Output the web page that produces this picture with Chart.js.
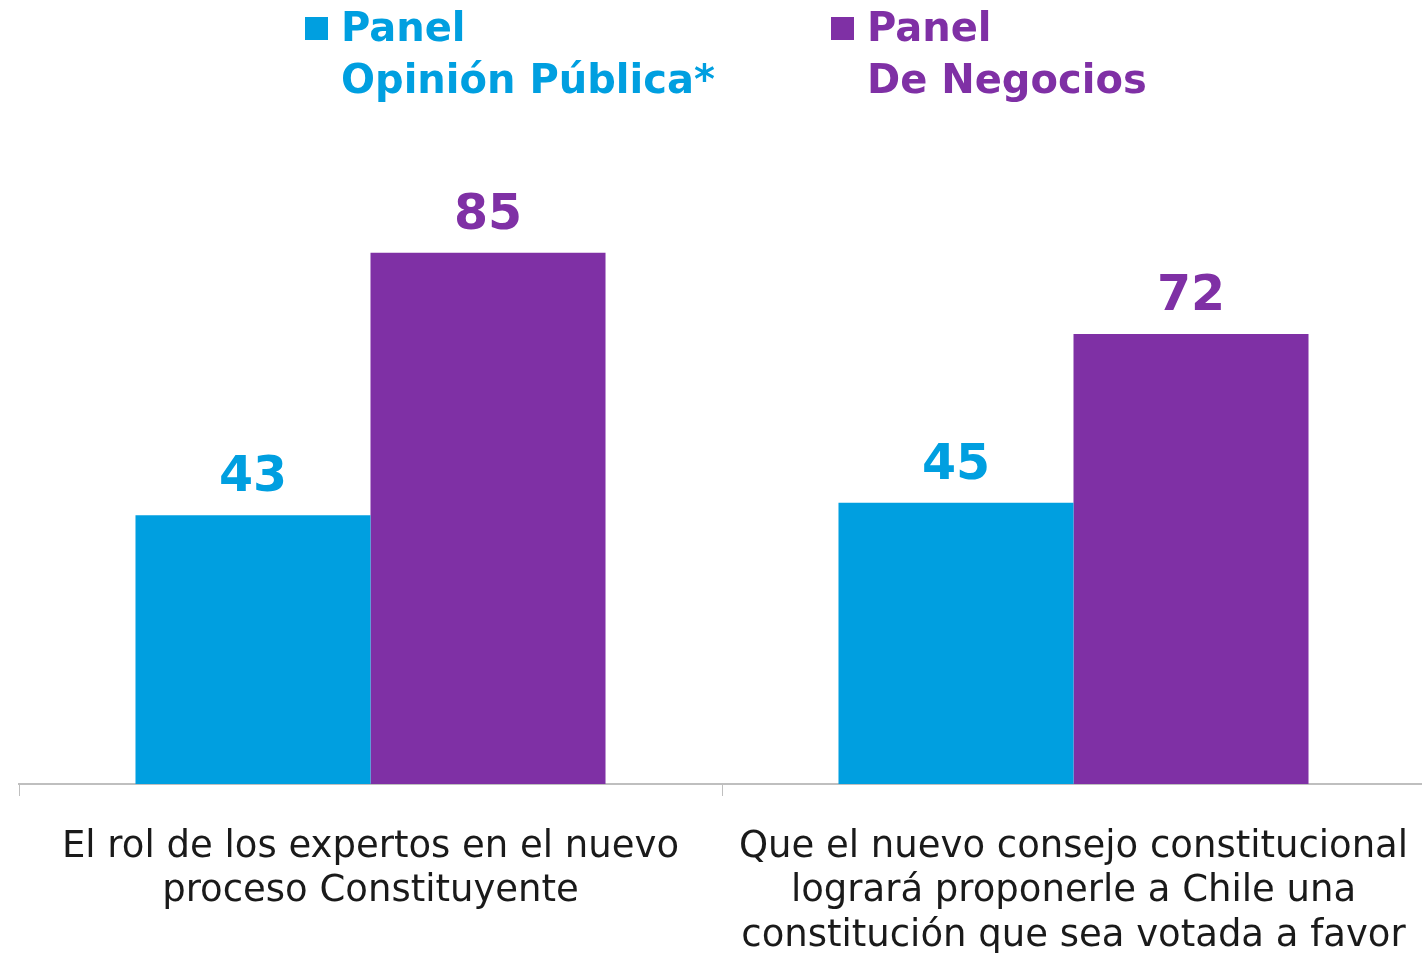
<!DOCTYPE html>
<html>
<head>
<meta charset="utf-8">
<script src="https://cdn.jsdelivr.net/npm/chart.js@4/dist/chart.umd.min.js"></script>
<style>
html,body{margin:0;padding:0;background:#fff;overflow:hidden;}
#wrap{width:1422px;height:953px;position:relative;overflow:hidden;}
</style>
</head>
<body>
<div id="wrap"><canvas id="c" width="1425" height="953"></canvas></div>
<script>
const categories = [
  ["El rol de los expertos en el nuevo", "proceso Constituyente"],
  ["Que el nuevo consejo constitucional", "logrará proponerle a Chile una", "constitución que sea votada a favor"]
];
const seriesNames = [["Panel", "Opinión Pública*"], ["Panel", "De Negocios"]];
const opinionPublica = [43, 45];
const deNegocios = [85, 72];
const colors = ["#009FE0", "#7F30A5"];

const overlay = {
  id: 'overlay',
  afterDatasetsDraw(chart) {
    const ctx = chart.ctx;
    ctx.save();
    // value labels
    chart.data.datasets.forEach((ds, i) => {
      const meta = chart.getDatasetMeta(i);
      meta.data.forEach((bar, j) => {
        ctx.fillStyle = colors[i];
        ctx.font = 'bold 49px "DejaVu Sans"';
        ctx.textAlign = 'center';
        ctx.textBaseline = 'alphabetic';
        ctx.fillText(String(ds.data[j]), bar.x, bar.y - 24);
      });
    });
    // legend
    const legendX = [305, 831];
    chart.data.datasets.forEach((ds, i) => {
      const x = legendX[i];
      ctx.fillStyle = colors[i];
      ctx.fillRect(x, 17, 23, 23);
      ctx.font = 'bold 40px "DejaVu Sans"';
      ctx.textAlign = 'left';
      ctx.textBaseline = 'alphabetic';
      seriesNames[i].forEach((line, k) => {
        ctx.fillText(line, x + 36, 41 + k * 52);
      });
    });
    ctx.restore();
  }
};

new Chart(document.getElementById('c'), {
  type: 'bar',
  data: {
    labels: categories,
    datasets: [
      { label: seriesNames[0].join(' '), data: opinionPublica, backgroundColor: colors[0] },
      { label: seriesNames[1].join(' '), data: deNegocios, backgroundColor: colors[1] }
    ]
  },
  options: {
    responsive: false,
    animation: false,
    layout: { padding: { top: 159, left: 19, right: 0, bottom: 0 } },
    plugins: { legend: { display: false }, tooltip: { enabled: false } },
    datasets: { bar: { categoryPercentage: 0.6686, barPercentage: 1.0 } },
    scales: {
      x: {
        afterFit(scale) { scale.height = 169; scale.paddingLeft = 0; scale.paddingRight = 0; },
        grid: { drawOnChartArea: false, color: '#bfbfbf', tickLength: 12, offset: true, lineWidth: 1 },
        border: { display: true, color: '#bfbfbf', width: 2 },
        ticks: {
          color: '#1a1a1a',
          font: { family: '"DejaVu Sans"', size: 37, lineHeight: 1.2 },
          padding: 29,
          maxRotation: 0,
          autoSkip: false
        }
      },
      y: {
        display: false,
        min: 0,
        max: 100
      }
    }
  },
  plugins: [overlay]
});
</script>
</body>
</html>
